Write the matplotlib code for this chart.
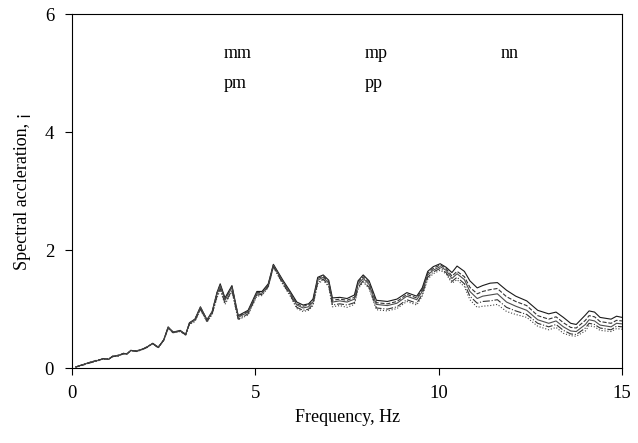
import matplotlib
matplotlib.use("Agg")
import matplotlib.pyplot as plt

freq = [0.1, 0.3, 0.5, 0.7, 0.85, 1.0, 1.1, 1.25, 1.4, 1.5,
        1.6, 1.78, 1.95, 2.05, 2.2, 2.35, 2.5, 2.62, 2.75, 2.95,
        3.1, 3.2, 3.35, 3.5, 3.68, 3.82, 3.95, 4.04, 4.17, 4.36,
        4.53, 4.8, 5.04, 5.18, 5.35, 5.49, 5.75, 5.95, 6.13, 6.3,
        6.45, 6.57, 6.7, 6.85, 7.0, 7.1, 7.3, 7.5, 7.7, 7.8,
        7.94, 8.1, 8.3, 8.6, 8.86, 9.13, 9.4, 9.55, 9.7, 9.85,
        10.04, 10.2, 10.36, 10.5, 10.7, 10.85, 11.05, 11.2, 11.4, 11.6,
        11.85, 12.1, 12.4, 12.7, 13.0, 13.2, 13.4, 13.6, 13.75, 14.0,
        14.1, 14.25, 14.4, 14.7, 14.85, 15.0]

sa_mm = [0.02, 0.06, 0.10, 0.13, 0.16, 0.15, 0.20, 0.21, 0.25, 0.24,
         0.30, 0.29, 0.33, 0.36, 0.42, 0.35, 0.48, 0.70, 0.61, 0.64,
         0.57, 0.77, 0.83, 1.04, 0.82, 0.96, 1.28, 1.43, 1.19, 1.40,
         0.89, 0.98, 1.30, 1.30, 1.43, 1.76, 1.49, 1.30, 1.12, 1.07,
         1.09, 1.17, 1.54, 1.58, 1.49, 1.19, 1.20, 1.18, 1.24, 1.48,
         1.58, 1.48, 1.15, 1.13, 1.17, 1.28, 1.22, 1.36, 1.64, 1.72,
         1.77, 1.71, 1.62, 1.73, 1.64, 1.48, 1.36, 1.40, 1.44, 1.45,
         1.32, 1.22, 1.14, 0.98, 0.92, 0.95, 0.86, 0.76, 0.74, 0.90,
         0.97, 0.95, 0.86, 0.83, 0.88, 0.86]

sa_pm = [0.02, 0.05, 0.10, 0.14, 0.15, 0.16, 0.19, 0.22, 0.24, 0.25,
         0.29, 0.30, 0.32, 0.37, 0.41, 0.36, 0.47, 0.68, 0.62, 0.62,
         0.58, 0.75, 0.83, 1.02, 0.82, 0.94, 1.27, 1.41, 1.17, 1.38,
         0.88, 0.96, 1.28, 1.28, 1.41, 1.75, 1.47, 1.28, 1.09, 1.05,
         1.07, 1.14, 1.52, 1.56, 1.46, 1.15, 1.17, 1.15, 1.20, 1.45,
         1.55, 1.45, 1.11, 1.09, 1.13, 1.25, 1.19, 1.33, 1.61, 1.69,
         1.75, 1.69, 1.56, 1.64, 1.55, 1.37, 1.26, 1.30, 1.33, 1.35,
         1.21, 1.13, 1.06, 0.89, 0.83, 0.87, 0.77, 0.69, 0.68, 0.81,
         0.89, 0.87, 0.79, 0.76, 0.81, 0.80]

sa_mp = [0.02, 0.06, 0.10, 0.13, 0.16, 0.15, 0.20, 0.21, 0.25, 0.24,
         0.30, 0.29, 0.33, 0.36, 0.42, 0.35, 0.48, 0.69, 0.61, 0.63,
         0.57, 0.76, 0.82, 1.03, 0.81, 0.95, 1.25, 1.40, 1.15, 1.37,
         0.86, 0.95, 1.27, 1.27, 1.40, 1.74, 1.46, 1.27, 1.07, 1.02,
         1.04, 1.12, 1.49, 1.54, 1.44, 1.12, 1.14, 1.12, 1.17, 1.42,
         1.52, 1.42, 1.08, 1.06, 1.10, 1.22, 1.16, 1.30, 1.58, 1.66,
         1.72, 1.66, 1.52, 1.60, 1.50, 1.30, 1.18, 1.22, 1.24, 1.26,
         1.12, 1.05, 0.98, 0.82, 0.76, 0.80, 0.70, 0.63, 0.62, 0.74,
         0.82, 0.80, 0.73, 0.70, 0.76, 0.75]

sa_pp = [0.02, 0.06, 0.09, 0.13, 0.16, 0.15, 0.20, 0.20, 0.25, 0.24,
         0.30, 0.28, 0.33, 0.35, 0.42, 0.34, 0.48, 0.68, 0.60, 0.63,
         0.56, 0.75, 0.80, 1.00, 0.79, 0.92, 1.21, 1.35, 1.10, 1.32,
         0.83, 0.92, 1.24, 1.25, 1.38, 1.72, 1.43, 1.24, 1.03, 0.98,
         1.00, 1.08, 1.45, 1.51, 1.40, 1.07, 1.09, 1.07, 1.11, 1.37,
         1.48, 1.37, 1.02, 1.00, 1.04, 1.16, 1.10, 1.25, 1.54, 1.63,
         1.69, 1.62, 1.47, 1.54, 1.43, 1.22, 1.10, 1.13, 1.14, 1.16,
         1.03, 0.97, 0.91, 0.76, 0.70, 0.74, 0.64, 0.58, 0.57, 0.68,
         0.76, 0.74, 0.68, 0.65, 0.71, 0.70]

sa_nn = [0.02, 0.06, 0.10, 0.12, 0.16, 0.15, 0.20, 0.21, 0.24, 0.24,
         0.30, 0.29, 0.32, 0.36, 0.41, 0.35, 0.47, 0.67, 0.60, 0.62,
         0.56, 0.74, 0.79, 0.99, 0.78, 0.91, 1.19, 1.33, 1.08, 1.30,
         0.82, 0.90, 1.22, 1.23, 1.37, 1.71, 1.42, 1.22, 1.01, 0.96,
         0.98, 1.06, 1.43, 1.49, 1.38, 1.04, 1.06, 1.03, 1.08, 1.34,
         1.46, 1.35, 0.99, 0.97, 1.01, 1.13, 1.07, 1.22, 1.51, 1.60,
         1.66, 1.60, 1.44, 1.50, 1.38, 1.16, 1.03, 1.05, 1.06, 1.08,
         0.96, 0.91, 0.86, 0.71, 0.65, 0.69, 0.59, 0.55, 0.54, 0.63,
         0.72, 0.70, 0.64, 0.62, 0.67, 0.66]

series = [("mm", sa_mm, "-", "#1a1a1a"),
          ("pm", sa_pm, "--", "#333333"),
          ("mp", sa_mp, "-", "#4d4d4d"),
          ("pp", sa_pp, "-.", "#333333"),
          ("nn", sa_nn, ":", "#444444")]

plt.rcParams["font.family"] = ["Liberation Serif", "DejaVu Serif"]

fig = plt.figure(figsize=(6.38, 4.43), dpi=100)
ax = fig.add_axes([0.113, 0.169, 0.862, 0.799])

for name, vals, ls, col in series:
    ax.plot(freq, vals, linestyle=ls, color=col, lw=0.8, label=name)

ax.set_xlim(0, 15)
ax.set_ylim(0, 6)
ax.set_xticks([0, 5, 10, 15])
ax.set_yticks([0, 2, 4, 6])
ax.tick_params(labelsize=13.5, direction="out", length=5, width=0.8)
ax.tick_params(axis="x", pad=7)
ax.tick_params(axis="y", pad=8)
for sp in ax.spines.values():
    sp.set_linewidth(0.8)

ax.set_xlabel("Frequency, Hz", fontsize=13, labelpad=5)
ax.set_ylabel("Spectral accleration, ¡", fontsize=13, labelpad=10)

# legend: labels only, line samples not visible in the original
leg = ax.legend(ncol=3, frameon=False, fontsize=13, loc="upper left",
                bbox_to_anchor=(0.246, 0.958), handlelength=0,
                handletextpad=0, columnspacing=6.25, labelspacing=0.7)
for h in leg.get_lines():
    h.set_alpha(0.0)

fig.savefig("out.png", dpi=100)
